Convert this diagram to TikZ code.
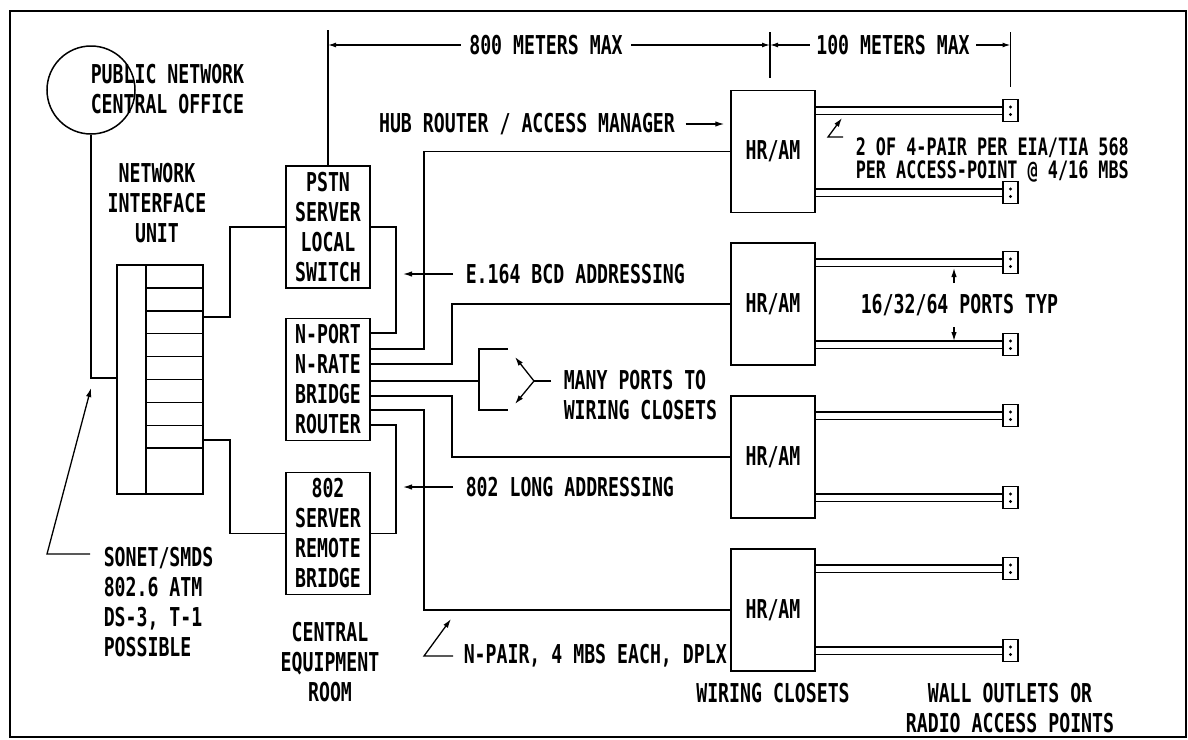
\documentclass[tikz,border=0pt]{standalone}
\usepackage{fontspec}
\setmainfont{DejaVu Sans Mono}[FakeStretch=0.7]
\usetikzlibrary{arrows.meta}
\begin{document}
\begin{tikzpicture}[x=1pt,y=-1pt,
  line width=1.5pt,
  every node/.style={inner sep=0pt},
  txt/.style={font=\fontsize{26}{30}\selectfont\bfseries},
  smalltxt/.style={font=\fontsize{24}{23}\selectfont\bfseries},
  box/.style={draw, minimum width=84pt, minimum height=122pt, align=center, txt},
  hrbox/.style={draw, minimum width=84pt, minimum height=122pt, txt},
  outlet/.style={draw, line width=1.2pt, minimum width=15pt, minimum height=22pt},
  lead/.style={-{Latex[length=9pt,width=5.5pt]}, line width=1.3pt},
  dim/.style={-{Latex[length=8pt,width=5pt]}, line width=1.3pt}
]
\useasboundingbox (0,0) rectangle (1188,739);
\draw[line width=2pt] (10,11) rectangle (1186,737);

% central office
\node[draw, circle, minimum size=88pt] (co) at (91,90) {};
\node[txt, anchor=west, align=left] (cot) at (90,89) {PUBLIC NETWORK\\CENTRAL OFFICE};

% network interface unit
\node[txt, align=center] (niul) at (157,203) {NETWORK\\INTERFACE\\UNIT};
\node[draw, minimum width=86pt, minimum height=229pt] (niu) at (160,379.5) {};
\draw (146,265) -- (146,494);
\foreach \k in {1,...,8} \draw (146,265+22.9*\k) -- (203,265+22.9*\k);
\draw (co.south) |- (niu.west |- 0,378);

% central equipment
\node[box] (pstn) at (328,227) {PSTN\\SERVER\\LOCAL\\SWITCH};
\node[box] (np) at (328,379.5) {N-PORT\\N-RATE\\BRIDGE\\ROUTER};
\node[box] (srv) at (328,533.5) {802\\SERVER\\REMOTE\\BRIDGE};
\node[txt, align=center] (cer) at (330,662) {CENTRAL\\EQUIPMENT\\ROOM};

\draw (niu.east |- 0,317) -- (230,317) |- (pstn.west);
\draw (niu.east |- 0,440) -- (230,440) |- (srv.west);

% wiring closets
\node[hrbox] (hr1) at (773,151.5) {HR/AM};
\node[hrbox] (hr2) at (773,304) {HR/AM};
\node[hrbox] (hr3) at (773,457) {HR/AM};
\node[hrbox] (hr4) at (773,610) {HR/AM};
\node[txt] (wcl) at (773,693) {WIRING CLOSETS};

% connectors from bridge router
\draw (pstn.east) -- (396,227) |- (np.east |- 0,333);
\draw (np.east |- 0,349) -- (424,349) |- (hr1.west);
\draw (np.east |- 0,364) -- (452,364) |- (hr2.west);
\coordinate (brm) at (479,381);
\draw (np.east |- brm) -- (brm);
\draw (508,349) -- (479,349) -- (479,410) -- (508,410);
\draw (np.east |- 0,396) -- (452,396) |- (hr3.west);
\draw (np.east |- 0,410) -- (424,410) |- (hr4.west);
\draw (np.east |- 0,425) -- (396,425) |- (srv.east);

% outlets
\foreach \n/\t in {1/91,2/243,3/396,4/549} {
  \node[outlet] (o\n a) at (1010.5,\t+19.75) {};
  \node[outlet] (o\n b) at (1010.5,\t+101.75) {};
  \foreach \s in {-3.75,3.75} {
    \draw[line width=1.3pt] ([yshift=\s pt]hr\n.east |- o\n a.center) -- ([yshift=\s pt]o\n a.west);
    \draw[line width=1.3pt] ([yshift=\s pt]hr\n.east |- o\n b.center) -- ([yshift=\s pt]o\n b.west);
    \fill ([yshift=\s pt]o\n a.center) circle (1.6pt);
    \fill ([yshift=\s pt]o\n b.center) circle (1.6pt);
  }
}
\node[txt, align=center] (wall) at (1010,708) {WALL OUTLETS OR\\RADIO ACCESS POINTS};

% dimensions
\coordinate (d0) at (pstn.north |- 0,30);
\draw (pstn.north) -- (d0);
\node[txt] (m800) at (546,45) {800 METERS MAX};
\coordinate (t1a) at (770,32);
\coordinate (t1b) at (770,78);
\draw (t1a) -- (t1b);
\draw[dim] ([xshift=-8pt]m800.west) -- (pstn.north |- m800.west);
\draw[dim] ([xshift=8pt]m800.east) -- (t1a |- m800.east);
\node[txt] (m100) at (893,45) {100 METERS MAX};
\draw[dim] ([xshift=-6pt]m100.west) -- (t1a |- m100.west);
\coordinate (t2a) at (o1a.center |- 0,32);
\coordinate (t2b) at (o1a.center |- 0,87);
\draw (t2a) -- (t2b);
\draw[dim] ([xshift=6pt]m100.east) -- (t2a |- m100.east);

% labels
\node[txt] (hub) at (527,124) {HUB ROUTER / ACCESS MANAGER};
\draw[lead] ([xshift=10pt]hub.east) -- ([xshift=-6pt]hr1.west |- hub);

\node[smalltxt, anchor=west, align=left] (pair) at (855,159.5) {2 OF 4-PAIR PER EIA/TIA 568\\PER ACCESS-POINT @ 4/16 MBS};
\coordinate (pa) at (843,137);
\coordinate (pb) at (828,137);
\coordinate (pc) at (842,118);
\draw[lead] (pa) -- (pb) -- (pc);

\node[txt, anchor=west] (e164) at (465,274) {E.164 BCD ADDRESSING};
\coordinate (e164t) at (403,274);
\draw[lead] ([xshift=-12pt]e164.west) -- (e164t);

\node[txt, anchor=west] (l802) at (465,487) {802 LONG ADDRESSING};
\coordinate (l802t) at (403,487);
\draw[lead] ([xshift=-12pt]l802.west) -- (l802t);

\node[txt, anchor=west, align=left] (many) at (563,395) {MANY PORTS TO\\WIRING CLOSETS};
\coordinate (fk) at (534,381);
\coordinate (fs) at (551,381);
\coordinate (fu) at (515,357);
\coordinate (fd) at (515,404);
\draw[line width=1.3pt] (fs) -- (fk);
\draw[lead] (fk) -- (fu);
\draw[lead] (fk) -- (fd);

\node[txt, anchor=west] (ports) at (860,305) {16/32/64 PORTS TYP};
\draw[lead] (954,283) -- (954,268);
\draw[lead] (954,327) -- (954,341);

\node[txt, anchor=west] (npair) at (463,656) {N-PAIR, 4 MBS EACH, DPLX};
\coordinate (na) at (453,656);
\coordinate (nb) at (424,656);
\coordinate (nc) at (451,619);
\draw[lead] (na) -- (nb) -- (nc);

\node[txt, anchor=west, align=left] (sonet) at (103,602) {SONET/SMDS\\802.6 ATM\\DS-3, T-1\\POSSIBLE};
\coordinate (sa) at (90,554);
\coordinate (sb) at (47,554);
\coordinate (sc) at (91,388);
\draw[lead] (sa) -- (sb) -- (sc);
\end{tikzpicture}
\end{document}
